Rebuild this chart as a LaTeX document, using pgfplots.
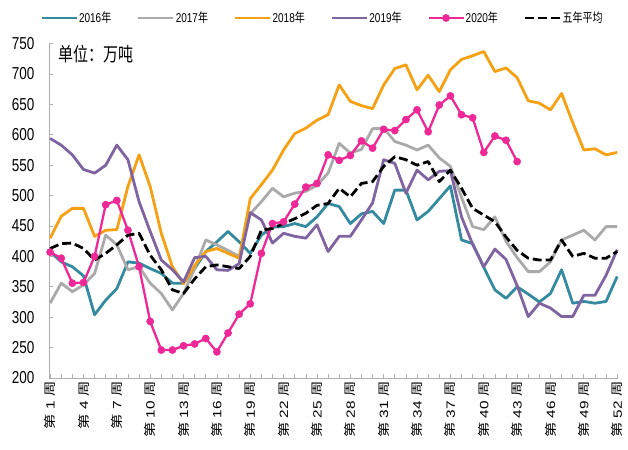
\documentclass[border=0pt]{standalone}
\usepackage{pgfplots}
\pgfplotsset{compat=1.18}
\usepackage{pgfplotstable}
\usepackage{graphicx}
\usepackage{fontspec}
\setmainfont{Liberation Sans}
\newfontfamily\cjk{Noto Sans CJK SC}
\definecolor{c16}{RGB}{52,138,158}
\definecolor{c17}{RGB}{170,170,170}
\definecolor{c18}{RGB}{246,160,20}
\definecolor{c19}{RGB}{128,100,162}
\definecolor{c20}{RGB}{238,40,150}
\definecolor{axc}{RGB}{175,175,175}
\newcommand\st[1]{\scalebox{1}[1.28]{#1}}
\newcommand\xl[1]{\scalebox{1.28}[1]{{\cjk 第}~#1~{\cjk 周}}}
\newcommand\lt[1]{\makebox[59bp][l]{\hspace{1bp}\st{#1}}}
\pgfplotstableread{
w a16 a17 a18 a19 a20 avg
1 408 323 430 594 407 413
2 391 356 466 583 397 421
3 383 342 479 567 356 422
4 368 353 479 543 357 413
5 304 372 433 537 400 394
6 328 435 443 550 485 405
7 347 419 444 583 492 419
8 391 378 515 559 443 435
9 389 383 567 490 383 438
10 380 356 515 441 293 402
11 372 339 438 394 246 378
12 356 312 383 378 246 345
13 356 339 355 358 253 339
14 380 380 385 398 256 363
15 408 427 408 400 265 383
16 424 419 413 378 243 386
17 441 410 405 377 274 383
18 424 400 397 388 305 380
19 405 470 495 472 322 400
20 435 490 518 460 405 443
21 448 512 542 422 454 446
22 449 498 575 438 457 454
23 454 504 602 433 486 462
24 449 507 611 430 514 471
25 465 517 624 452 520 484
26 487 537 633 408 567 487
27 482 586 682 433 558 512
28 454 570 655 433 566 498
29 470 576 648 460 590 520
30 474 610 643 488 578 523
31 454 611 682 559 609 548
32 509 589 709 553 607 564
33 509 583 715 504 625 559
34 460 575 674 542 641 550
35 474 583 698 526 605 556
36 495 562 671 540 649 523
37 516 548 707 541 664 542
38 427 497 724 465 633 512
39 421 449 730 420 628 479
40 382 444 737 383 571 468
41 345 465 704 412 598 457
42 331 425 710 395 591 432
43 350 398 694 352 556 410
44 338 375 656 301 nan 397
45 325 375 652 323 nan 394
46 339 391 641 315 nan 394
47 378 427 668 301 nan 427
48 323 435 620 301 nan 400
49 326 443 575 336 nan 405
50 323 427 577 336 nan 397
51 326 449 567 369 nan 397
52 367 449 571 411 nan 408
}\datatab
\begin{document}
\begin{tikzpicture}
\path[use as bounding box] (-49bp,-72bp) rectangle (579bp,378bp);
\begin{axis}[
  at={(0bp,0bp)}, anchor=south west,
  scale only axis, width=569.3bp, height=334.4bp,
  xmin=0.9, xmax=52.1, ymin=200, ymax=750,
  axis x line*=bottom, axis y line*=left,
  axis line style={draw=axc, line width=0.8bp},
  tick style={draw=axc, line width=0.7bp},
  tick align=inside,
  major tick length=4bp, minor tick length=4bp,
  xtick={1,4,...,52},
  minor xtick={1,...,52},
  xticklabels={\xl{1},\xl{4},\xl{7},\xl{10},\xl{13},\xl{16},\xl{19},\xl{22},\xl{25},\xl{28},\xl{31},\xl{34},\xl{37},\xl{40},\xl{43},\xl{46},\xl{49},\xl{52}},
  xticklabel style={rotate=90, anchor=east, font=\fontsize{12bp}{13bp}\selectfont},
  ytick={200,250,...,750},
  yticklabels={\st{200},\st{250},\st{300},\st{350},\st{400},\st{450},\st{500},\st{550},\st{600},\st{650},\st{700},\st{750}},
  yticklabel style={anchor=east, xshift=-11bp, font=\fontsize{13.5bp}{14bp}\selectfont},
  every axis plot/.append style={line width=2.8bp, line join=round},
  legend columns=6,
  legend style={at={(-0.0158,1.0766)}, anchor=west, draw=none, fill=none,
    inner sep=0pt, nodes={inner sep=0pt},
    font=\fontsize{10bp}{12bp}\selectfont,
    /tikz/every even column/.append style={column sep=0pt}},
  legend image code/.code={\draw[mark repeat=2,mark phase=2,#1] plot coordinates {(0bp,0bp) (17.5bp,0bp) (35bp,0bp)};},
]
\addplot[c16, no markers] table[x=w,y=a16]{\datatab};
\addlegendentry{\lt{2016{\cjk 年}}}
\addplot[c17, no markers] table[x=w,y=a17]{\datatab};
\addlegendentry{\lt{2017{\cjk 年}}}
\addplot[c18, no markers] table[x=w,y=a18]{\datatab};
\addlegendentry{\lt{2018{\cjk 年}}}
\addplot[c19, no markers] table[x=w,y=a19]{\datatab};
\addlegendentry{\lt{2019{\cjk 年}}}
\addplot[c20, line width=2.3bp, mark=*, mark size=3.6bp, mark options={solid, fill=c20, draw=c20, line width=0.5bp}] table[x=w,y=a20]{\datatab};
\addlegendentry{\lt{2020{\cjk 年}}}
\addplot[black, no markers, dash pattern=on 9bp off 4bp] table[x=w,y=avg]{\datatab};
\addlegendentry{\lt{{\cjk 五年平均}}}
\node[anchor=north west, inner sep=0pt] at (rel axis cs:0.0158,0.996) {\fontsize{15bp}{16bp}\selectfont\cjk\st{单位：万吨}};
\end{axis}
\end{tikzpicture}
\end{document}
